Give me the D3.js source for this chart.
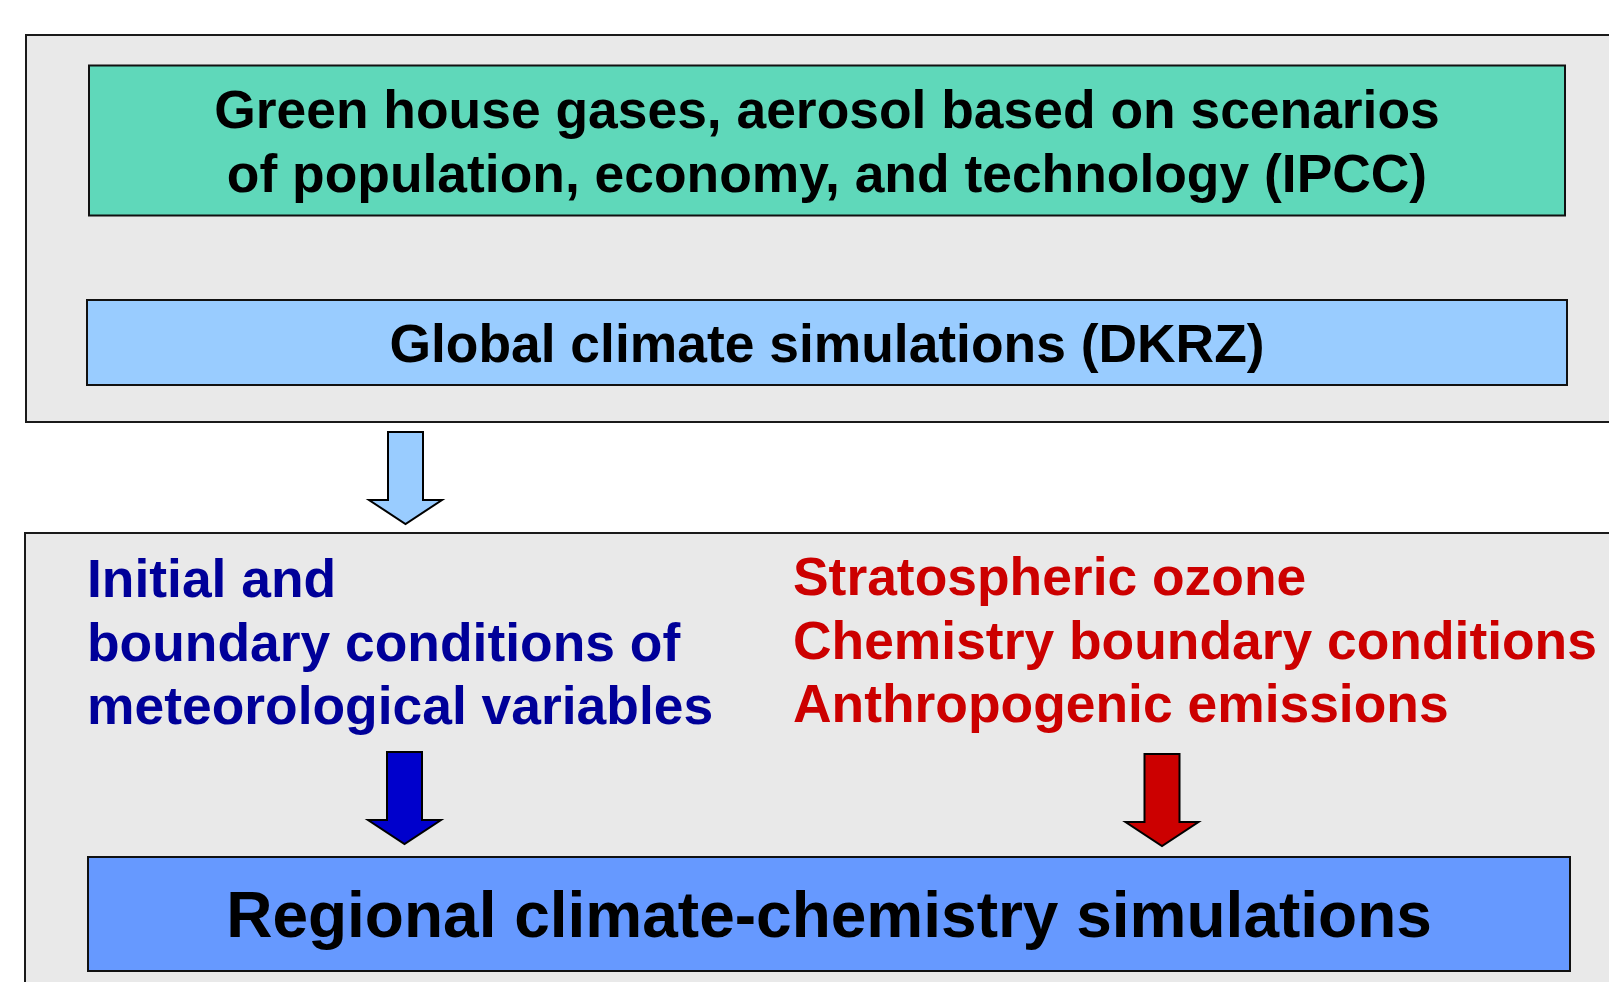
<!DOCTYPE html>
<html>
<head>
<meta charset="utf-8">
<script src="https://cdn.jsdelivr.net/npm/d3@7"></script>
<style>
  body { margin: 0; background: #fff; }
  text { font-family: "Liberation Sans", Arial, sans-serif; font-weight: bold; }
</style>
</head>
<body>
<script>
'use strict';

const width = 1609;
const height = 982;
const fontSize = 53.4;

// texts of the diagram
const scenarioLines = ['Green house gases, aerosol based on scenarios', 'of population, economy, and technology (IPCC)'];
const globalLines = ['Global climate simulations (DKRZ)'];
const meteoLines = ['Initial and', 'boundary conditions of', 'meteorological variables'];
const chemLines = ['Stratospheric ozone', 'Chemistry boundary conditions', 'Anthropogenic emissions'];
const regionalLines = ['Regional climate-chemistry simulations'];

const svg = d3.select('body')
  .append('svg')
  .attr('width', width)
  .attr('height', height);

// grey panels (they run off the right/bottom edge)
const panels = [
  { x: 26, y: 35, w: 1640, h: 387 },
  { x: 25, y: 533, w: 1640, h: 500 }
];

svg.selectAll('rect.panel')
  .data(panels)
  .enter()
  .append('rect')
  .attr('class', 'panel')
  .attr('x', d => d.x)
  .attr('y', d => d.y)
  .attr('width', d => d.w)
  .attr('height', d => d.h)
  .attr('fill', '#e9e9e9')
  .attr('stroke', '#1a1a1a')
  .attr('stroke-width', 2);

// coloured boxes
const boxes = [
  { x: 89, y: 65.5, w: 1476, h: 150, fill: '#5fd8ba', lines: scenarioLines, baselines: [128, 192], size: fontSize },
  { x: 87, y: 300, w: 1480, h: 85, fill: '#99ccff', lines: globalLines, baselines: [362], size: fontSize },
  { x: 88, y: 857, w: 1482, h: 114, fill: '#6699ff', lines: regionalLines, baselines: [937], size: 64 }
];

const boxG = svg.selectAll('g.box')
  .data(boxes)
  .enter()
  .append('g')
  .attr('class', 'box');

boxG.append('rect')
  .attr('x', d => d.x)
  .attr('y', d => d.y)
  .attr('width', d => d.w)
  .attr('height', d => d.h)
  .attr('fill', d => d.fill)
  .attr('stroke', '#111')
  .attr('stroke-width', 2);

boxG.each(function(d) {
  d3.select(this).selectAll('text')
    .data(d.lines)
    .enter()
    .append('text')
    .attr('x', d.x + d.w / 2)
    .attr('y', (t, i) => d.baselines[i])
    .attr('text-anchor', 'middle')
    .attr('font-size', d.size + 'px')
    .attr('fill', '#000')
    .text(t => t);
});

// two columns of input text
const columns = [
  { x: 87, baselines: [597, 661, 724], color: '#000099', lines: meteoLines },
  { x: 793, baselines: [595, 659, 722], color: '#cc0000', lines: chemLines }
];

columns.forEach(c => {
  svg.append('g')
    .selectAll('text')
    .data(c.lines)
    .enter()
    .append('text')
    .attr('x', c.x)
    .attr('y', (t, i) => c.baselines[i])
    .attr('font-size', fontSize + 'px')
    .attr('fill', c.color)
    .text(t => t);
});

// block arrows
const arrows = [
  { cx: 405.5, top: 432, base: 500, tip: 524, shaft: 17.5, head: 36.5, fill: '#99ccff' },
  { cx: 404.5, top: 752, base: 820, tip: 844, shaft: 17.5, head: 36.5, fill: '#0000cc' },
  { cx: 1162, top: 754, base: 822, tip: 846, shaft: 17.5, head: 36.5, fill: '#cc0000' }
];

const arrowPath = (a) => {
  const p = d3.path();
  p.moveTo(a.cx - a.shaft, a.top);
  p.lineTo(a.cx + a.shaft, a.top);
  p.lineTo(a.cx + a.shaft, a.base);
  p.lineTo(a.cx + a.head, a.base);
  p.lineTo(a.cx, a.tip);
  p.lineTo(a.cx - a.head, a.base);
  p.lineTo(a.cx - a.shaft, a.base);
  p.closePath();
  return p.toString();
};

svg.selectAll('path.arrow')
  .data(arrows)
  .enter()
  .append('path')
  .attr('class', 'arrow')
  .attr('d', arrowPath)
  .attr('fill', d => d.fill)
  .attr('stroke', '#000')
  .attr('stroke-width', 2)
  .attr('stroke-linejoin', 'miter');
</script>
</body>
</html>
